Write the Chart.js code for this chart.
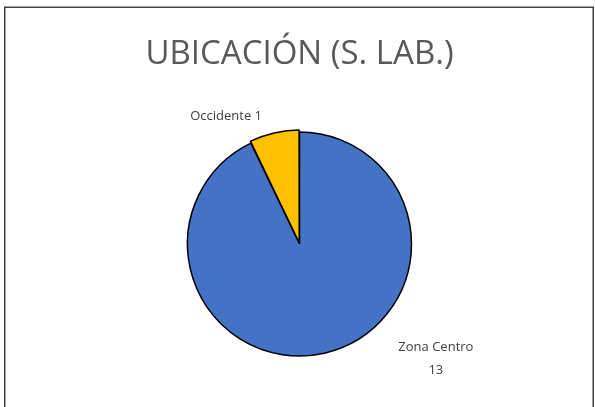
<!DOCTYPE html>
<html>
<head>
<meta charset="utf-8">
<script src="https://cdn.jsdelivr.net/npm/chart.js@4"></script>
<style>
  html, body { margin: 0; padding: 0; background: #fff; }
  #wrap { width: 595px; height: 407px; position: relative; }
</style>
</head>
<body>
<div id="wrap"><canvas id="c" width="595" height="407"></canvas></div>
<script>
const categories = ["Zona Centro", "Occidente"];
const values = [13, 1];
const sliceColors = ["#4472C4", "#FFC000"];
const chartTitle = "UBICACIÓN (S. LAB.)";

// label placement relative to the slice's mid-angle anchor
const labelPlacement = [
  { radiusExtra: 20, dx: 107, dy: -14, align: "center", twoLines: true },
  { radiusExtra: 20, dx: -44, dy: 1, align: "center", twoLines: false }
];

const frame = {
  id: "frame",
  beforeDraw(chart) {
    const ctx = chart.ctx;
    ctx.save();
    ctx.fillStyle = "#ffffff";
    ctx.fillRect(0, 0, chart.width, chart.height);
    ctx.strokeStyle = "#404040";
    ctx.lineWidth = 1.5;
    ctx.strokeRect(4.75, 7.25, 588.5, 420);
    ctx.restore();
  }
};

const pieLabels = {
  id: "pieLabels",
  afterDatasetsDraw(chart) {
    const ctx = chart.ctx;
    const meta = chart.getDatasetMeta(0);
    ctx.save();
    ctx.fillStyle = "#404040";
    ctx.font = "13px 'Open Sans'";
    ctx.textBaseline = "middle";
    meta.data.forEach((arc, i) => {
      const p = arc.getProps(["x", "y", "startAngle", "endAngle", "outerRadius"], true);
      const mid = (p.startAngle + p.endAngle) / 2;
      const pl = labelPlacement[i];
      const r = p.outerRadius + pl.radiusExtra;
      const ax = p.x + Math.cos(mid) * r + pl.dx;
      const ay = p.y + Math.sin(mid) * r + pl.dy;
      ctx.textAlign = pl.align;
      if (pl.twoLines) {
        ctx.fillText(categories[i], ax, ay - 11);
        ctx.fillText(String(values[i]), ax, ay + 12);
      } else {
        ctx.fillText(categories[i] + " " + values[i], ax, ay);
      }
    });
    ctx.restore();
  }
};

new Chart(document.getElementById("c"), {
  type: "pie",
  data: {
    labels: categories,
    datasets: [{
      data: values,
      backgroundColor: sliceColors,
      borderColor: "#000000",
      borderWidth: 1.5,
      offset: [0, 5]
    }]
  },
  options: {
    responsive: false,
    animation: false,
    radius: 112,
    layout: { padding: { left: 4, right: 0, top: 0, bottom: 41 } },
    plugins: {
      legend: { display: false },
      tooltip: { enabled: false },
      title: {
        display: true,
        text: chartTitle,
        color: "#595959",
        font: { family: "'Open Sans'", size: 33, weight: "normal", lineHeight: 1.2 },
        padding: { top: 35, bottom: 47.4 }
      }
    }
  },
  plugins: [frame, pieLabels]
});
</script>
</body>
</html>
